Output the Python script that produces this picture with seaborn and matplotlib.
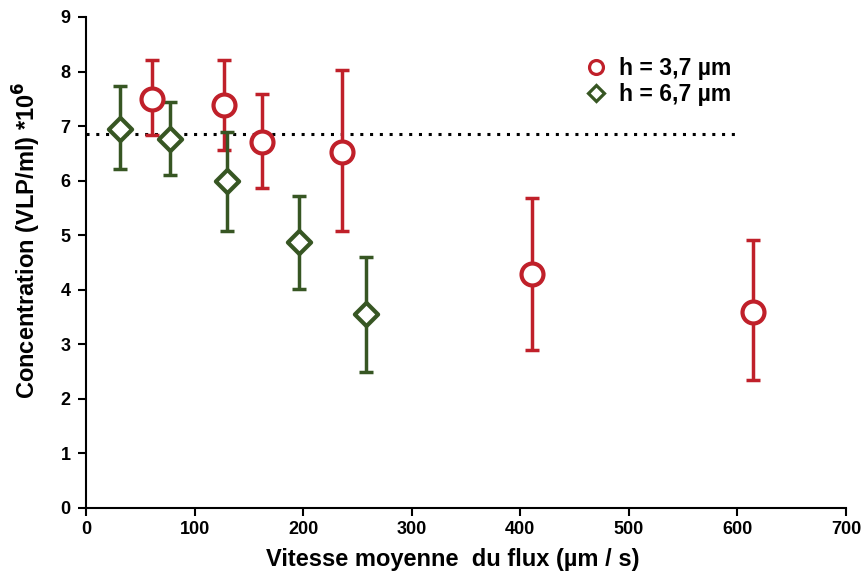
import pandas as pd
import matplotlib.pyplot as plt
import seaborn as sns
from matplotlib.lines import Line2D

# Data
red_x = [61, 127, 162, 236, 411, 614]
red_y = [7.50, 7.38, 6.71, 6.53, 4.29, 3.60]
red_hi = [8.22, 8.22, 7.59, 8.02, 5.69, 4.92]
red_lo = [6.84, 6.57, 5.87, 5.08, 2.90, 2.35]

green_x = [31, 77, 130, 196, 258]
green_y = [6.95, 6.77, 6.00, 4.87, 3.55]
green_hi = [7.73, 7.44, 6.90, 5.72, 4.60]
green_lo = [6.21, 6.11, 5.08, 4.01, 2.49]

ref_level = 6.85
ref_x = [0, 600]

series_names = ["h = 3,7 µm", "h = 6,7 µm"]
red = "#C0202A"
green = "#375623"

df_red = pd.DataFrame({"x": red_x, "y": red_y})
df_green = pd.DataFrame({"x": green_x, "y": green_y})

sns.set_style("ticks", {"axes.edgecolor": "black", "text.color": "black",
                        "xtick.color": "black", "ytick.color": "black",
                        "axes.labelcolor": "black"})
plt.rcParams["font.family"] = ["Liberation Sans", "DejaVu Sans"]
plt.rcParams["font.weight"] = "bold"

fig = plt.figure(figsize=(8.65, 5.77), dpi=100)
ax = fig.add_axes([0.0994, 0.1196, 0.8786, 0.851])

# reference level (dotted)
ax.plot(ref_x, [ref_level, ref_level], color="black", linestyle=(0, (1, 2.2)),
        linewidth=2.2, zorder=1)

# error bars
ax.errorbar(red_x, red_y,
            yerr=[[y - l for y, l in zip(red_y, red_lo)],
                  [h - y for y, h in zip(red_y, red_hi)]],
            fmt="none", ecolor=red, elinewidth=2.5, capsize=5, capthick=2.5, zorder=2)
ax.errorbar(green_x, green_y,
            yerr=[[y - l for y, l in zip(green_y, green_lo)],
                  [h - y for y, h in zip(green_y, green_hi)]],
            fmt="none", ecolor=green, elinewidth=2.5, capsize=5, capthick=2.5, zorder=2)

# open markers
sns.scatterplot(data=df_red, x="x", y="y", marker="o", s=250, facecolor="white",
                edgecolor=red, linewidth=3, ax=ax, zorder=3)
sns.scatterplot(data=df_green, x="x", y="y", marker="D", s=140, facecolor="white",
                edgecolor=green, linewidth=3, ax=ax, zorder=3)

# legend
handles = [
    Line2D([], [], marker="o", linestyle="none", markersize=10, markerfacecolor="white",
           markeredgecolor=red, markeredgewidth=2.3, label=series_names[0]),
    Line2D([], [], marker="D", linestyle="none", markersize=8, markerfacecolor="white",
           markeredgecolor=green, markeredgewidth=2.3, label=series_names[1]),
]
ax.legend(handles=handles, loc="upper left", bbox_to_anchor=(0.656, 0.919),
          frameon=False, prop={"weight": "bold", "size": 16.5},
          handletextpad=0.5, labelspacing=0.15, handlelength=1.0,
          borderaxespad=0, borderpad=0)

ax.set_xlim(0, 700)
ax.set_ylim(0, 9)
ax.set_xticks(range(0, 701, 100))
ax.set_yticks(range(0, 10))
ax.tick_params(axis="both", direction="out", length=6, width=1.5, labelsize=13,
               colors="black")
ax.tick_params(axis="y", pad=5)
for lab in ax.get_xticklabels() + ax.get_yticklabels():
    lab.set_fontweight("bold")
for sp in ["left", "bottom"]:
    ax.spines[sp].set_linewidth(1.5)
sns.despine(ax=ax)

ax.set_xlabel("Vitesse moyenne  du flux (µm / s)", fontsize=17, fontweight="bold")
ax.set_ylabel("Concentration (VLP/ml) *10$^{\\mathbf{6}}$", fontsize=17, fontweight="bold")
ax.xaxis.set_label_coords(0.482, -0.081)
ax.yaxis.set_label_coords(-0.057, 0.545)

plt.savefig("out.png", dpi=100)
